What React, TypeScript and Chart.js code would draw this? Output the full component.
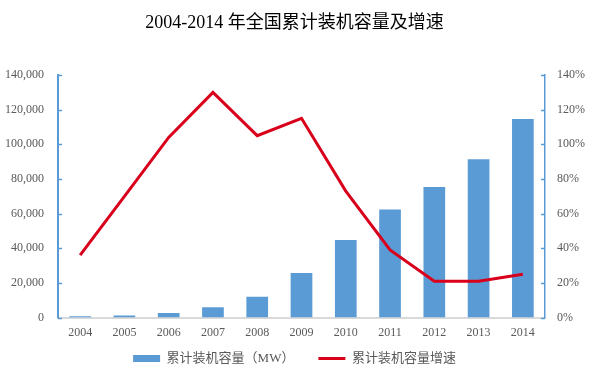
import React, { useEffect, useRef } from "react";
import { Chart, registerables } from "chart.js";

Chart.register(...registerables);

const years = ["2004", "2005", "2006", "2007", "2008", "2009", "2010", "2011", "2012", "2013", "2014"];
const capacityMW = [764, 1260, 2599, 5910, 12020, 25805, 44733, 62364, 75324, 91412, 114609];
const growthPct = [36, 70, 104, 130, 105, 115, 73, 39, 21, 21, 25];

const titleText = "2004-2014 年全国累计装机容量及增速";
const barLabel = "累计装机容量（MW）";
const lineLabel = "累计装机容量增速";

const BLUE = "#5b9bd5";
const RED = "#d9001b";
const TEXT = "#595959";
const SERIF = "'Liberation Serif', 'Times New Roman', 'Noto Sans CJK SC', serif";

const LEGEND_PAD = 24;
const LEGEND_H = 34;
const LEGEND_SHIFT = 12;

const innerTicks = {
  id: "innerTicks",
  afterInit(chart: any) {
    const lg = chart.legend;
    if (!lg) return;
    const fit = lg.fit.bind(lg);
    lg.fit = function () {
      fit();
      this.height = LEGEND_H;
    };
    const draw = lg.draw.bind(lg);
    lg.draw = function () {
      const t = this.top;
      this.top = t - LEGEND_SHIFT;
      draw();
      this.top = t;
    };
  },
  afterDatasetsDraw(chart: any) {
    const ctx = chart.ctx;
    const yl = chart.scales.y;
    const yr = chart.scales.y1;
    ctx.save();
    ctx.strokeStyle = BLUE;
    ctx.lineWidth = 1.5;
    yl.ticks.forEach((t: any) => {
      const y = Math.round(yl.getPixelForValue(t.value)) + 0.5;
      ctx.beginPath();
      ctx.moveTo(chart.chartArea.left, y);
      ctx.lineTo(chart.chartArea.left + 4, y);
      ctx.stroke();
    });
    yr.ticks.forEach((t: any) => {
      const y = Math.round(yr.getPixelForValue(t.value)) + 0.5;
      ctx.beginPath();
      ctx.moveTo(chart.chartArea.right, y);
      ctx.lineTo(chart.chartArea.right - 4, y);
      ctx.stroke();
    });
    ctx.restore();
  },
};

export default function App() {
  const ref = useRef<HTMLCanvasElement | null>(null);
  useEffect(() => {
    if (!ref.current) return;
    const chart = new Chart(ref.current, {
      type: "bar",
      data: {
        labels: years,
        datasets: [
          {
            type: "line",
            label: lineLabel,
            data: growthPct,
            yAxisID: "y1",
            borderColor: RED,
            backgroundColor: RED,
            borderWidth: 3,
            pointRadius: 0,
            tension: 0,
            order: 0,
          } as any,
          {
            type: "bar",
            label: barLabel,
            data: capacityMW,
            yAxisID: "y",
            backgroundColor: BLUE,
            borderWidth: 0,
            categoryPercentage: 1,
            barPercentage: 0.49,
            order: 1,
          } as any,
        ],
      },
      options: {
        responsive: false,
        animation: false,
        layout: { padding: { left: 0, right: 0, top: 0, bottom: 0 } },
        plugins: {
          title: {
            display: true,
            text: titleText,
            color: "#000",
            font: { family: SERIF, size: 18, weight: "normal" },
            padding: { top: 12, bottom: 41.4 },
          },
          tooltip: { enabled: false },
          legend: {
            position: "bottom",
            labels: {
              color: TEXT,
              font: { family: SERIF, size: 13 },
              usePointStyle: true,
              pointStyleWidth: 27,
              boxHeight: 7,
              padding: LEGEND_PAD,
              generateLabels: () => [
                { text: barLabel, fillStyle: BLUE, strokeStyle: BLUE, lineWidth: 0, pointStyle: "rect", datasetIndex: 1, hidden: false, fontColor: TEXT },
                { text: lineLabel, fillStyle: RED, strokeStyle: RED, lineWidth: 3, pointStyle: "line", datasetIndex: 0, hidden: false, fontColor: TEXT },
              ],
            },
          },
        },
        scales: {
          x: {
            grid: { display: false, drawTicks: false },
            border: { display: true, color: "#d9d9d9", width: 2 },
            ticks: { color: TEXT, font: { family: SERIF, size: 12 }, padding: 8, maxRotation: 0 },
            afterFit: (s: any) => { s.height = 22.4; },
          },
          y: {
            position: "left",
            min: 0,
            max: 140000,
            grid: { display: false, drawTicks: false },
            border: { display: true, color: BLUE, width: 2 },
            ticks: {
              stepSize: 20000,
              color: TEXT,
              font: { family: SERIF, size: 12 },
              padding: 14,
              callback: (v: any) => Number(v).toLocaleString("en-US"),
            },
            afterFit: (s: any) => { s.width = 58; },
          },
          y1: {
            position: "right",
            min: 0,
            max: 140,
            grid: { display: false, drawTicks: false },
            border: { display: true, color: BLUE, width: 1.5 },
            ticks: {
              stepSize: 20,
              color: TEXT,
              font: { family: SERIF, size: 12 },
              padding: 12,
              callback: (v: any) => v + "%",
            },
            afterFit: (s: any) => { s.width = 44; },
          },
        },
      } as any,
      plugins: [innerTicks],
    });
    return () => chart.destroy();
  }, []);
  return (
    <div style={{ position: "absolute", left: 0, top: 0, width: 589, height: 374, background: "#fff" }}>
      <canvas ref={ref} width={589} height={374} />
    </div>
  );
}
